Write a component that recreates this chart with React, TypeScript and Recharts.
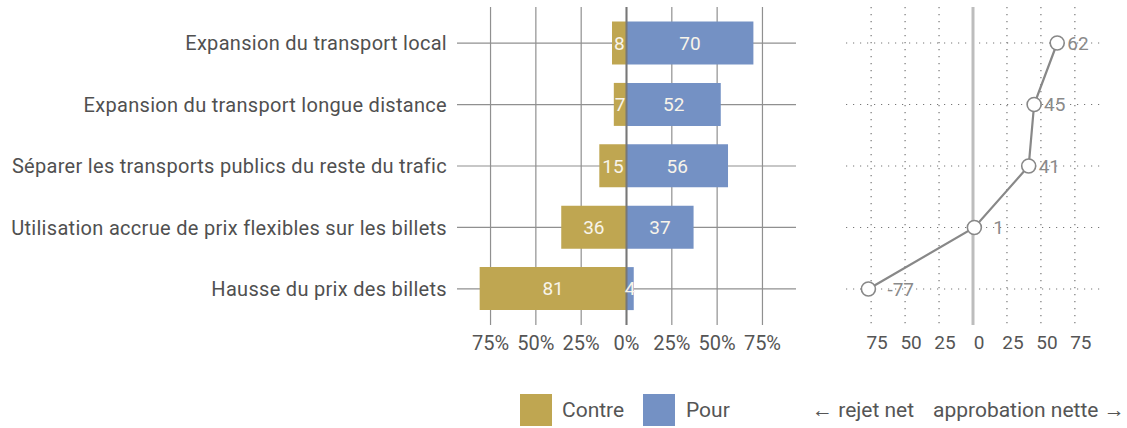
import React from 'react';
import {
  BarChart,
  Bar,
  XAxis,
  YAxis,
  CartesianGrid,
  ReferenceLine,
  LabelList,
  LineChart,
  Line,
} from 'recharts';

const categories = [
  'Expansion du transport local',
  'Expansion du transport longue distance',
  'Séparer les transports publics du reste du trafic',
  'Utilisation accrue de prix flexibles sur les billets',
  'Hausse du prix des billets',
];
const contre = [8, 7, 15, 36, 81];
const pour = [70, 52, 56, 37, 4];
const net = [62, 45, 41, 1, -77];
const barTicks = [-75, -50, -25, 0, 25, 50, 75];
const netTicks = [-75, -50, -25, 0, 25, 50, 75];

const GOLD = '#bfa651';
const BLUE = '#7491c4';
const FONT = 'Roboto, sans-serif';

const barData = categories.map((c, i) => ({ name: c, contre: -contre[i], pour: pour[i] }));
const netData = categories.map((c, i) => ({ name: c, net: net[i] }));

const NetLabel = (props: any) => {
  const { x, y, value } = props;
  const off = Math.abs(value) < 10 || value < 0 ? 19 : 10;
  return (
    <text x={x + off} y={y} dy="0.35em" fill="#8a8a8a" fontSize={19} fontFamily={FONT} textAnchor="start">
      {value}
    </text>
  );
};

const legendText: React.CSSProperties = {
  position: 'absolute',
  top: 394,
  height: 32,
  lineHeight: '32px',
  fontSize: 21,
  color: '#555',
  whiteSpace: 'pre',
};

export default function App() {
  return (
    <div style={{ position: 'absolute', left: 0, top: 0, width: 1127, height: 428, background: '#fff', fontFamily: FONT }}>
      <div style={{ position: 'absolute', left: 0, top: 0 }}>
        <BarChart
          width={800}
          height={360}
          data={barData}
          layout="vertical"
          stackOffset="sign"
          margin={{ top: 7, right: 4, left: 0, bottom: 0 }}
        >
          <CartesianGrid stroke="#909090" strokeWidth={1.2} syncWithTicks />
          <XAxis
            type="number"
            domain={[-93.5, 93.5]}
            ticks={barTicks}
            tickFormatter={(v: number) => `${Math.abs(v)}%`}
            axisLine={false}
            tickLine={false}
            height={35}
            tickMargin={5}
            tick={{ fill: '#555', fontSize: 20, fontFamily: FONT }}
          />
          <YAxis
            type="category"
            dataKey="name"
            width={457}
            axisLine={false}
            tickLine={false}
            tickMargin={4}
            padding={{ top: 5.5, bottom: 5.5 }}
            tick={{ fill: '#505050', fontSize: 20, fontFamily: FONT, letterSpacing: 0.3 }}
          />
          <ReferenceLine x={0} stroke="#777" strokeWidth={2} />
          <Bar dataKey="contre" stackId="a" fill={GOLD} barSize={43} isAnimationActive={false}>
            <LabelList
              dataKey="contre"
              position="center"
              formatter={(v: number) => Math.abs(v)}
              fill="#f8f4ea"
              fontSize={19}
              fontFamily={FONT}
            />
          </Bar>
          <Bar dataKey="pour" stackId="a" fill={BLUE} barSize={43} isAnimationActive={false}>
            <LabelList dataKey="pour" position="center" fill="#f8f4ea" fontSize={19} fontFamily={FONT} />
          </Bar>
        </BarChart>
      </div>
      <div style={{ position: 'absolute', left: 820, top: 0 }}>
        <LineChart
          width={307}
          height={360}
          data={netData}
          layout="vertical"
          margin={{ top: 7, right: 27, left: 26, bottom: 0 }}
        >
          <CartesianGrid stroke="#777" strokeWidth={1.2} strokeDasharray="1.2 5.8" syncWithTicks />
          <XAxis
            type="number"
            domain={[-93.5, 93.5]}
            ticks={netTicks}
            tickFormatter={(v: number) => `${Math.abs(v)}`}
            axisLine={false}
            tickLine={false}
            height={35}
            tickMargin={5}
            dx={6}
            tick={{ fill: '#555', fontSize: 19, fontFamily: FONT }}
          />
          <YAxis type="category" dataKey="name" hide padding={{ top: 36, bottom: 36 }} />
          <ReferenceLine x={0} stroke="#bdbdbd" strokeWidth={3} />
          <Line
            dataKey="net"
            stroke="#888"
            strokeWidth={2.2}
            dot={{ r: 7, fill: '#fff', stroke: '#888', strokeWidth: 1.6 }}
            isAnimationActive={false}
          >
            <LabelList dataKey="net" content={NetLabel} />
          </Line>
        </LineChart>
      </div>
      <div style={{ position: 'absolute', left: 520, top: 394, width: 32, height: 32, background: GOLD }} />
      <div style={{ ...legendText, left: 562 }}>Contre</div>
      <div style={{ position: 'absolute', left: 643, top: 394, width: 32, height: 32, background: BLUE }} />
      <div style={{ ...legendText, left: 686 }}>Pour</div>
      <div style={{ ...legendText, left: 812 }}>← rejet net</div>
      <div style={{ ...legendText, left: 933 }}>approbation nette →</div>
    </div>
  );
}
